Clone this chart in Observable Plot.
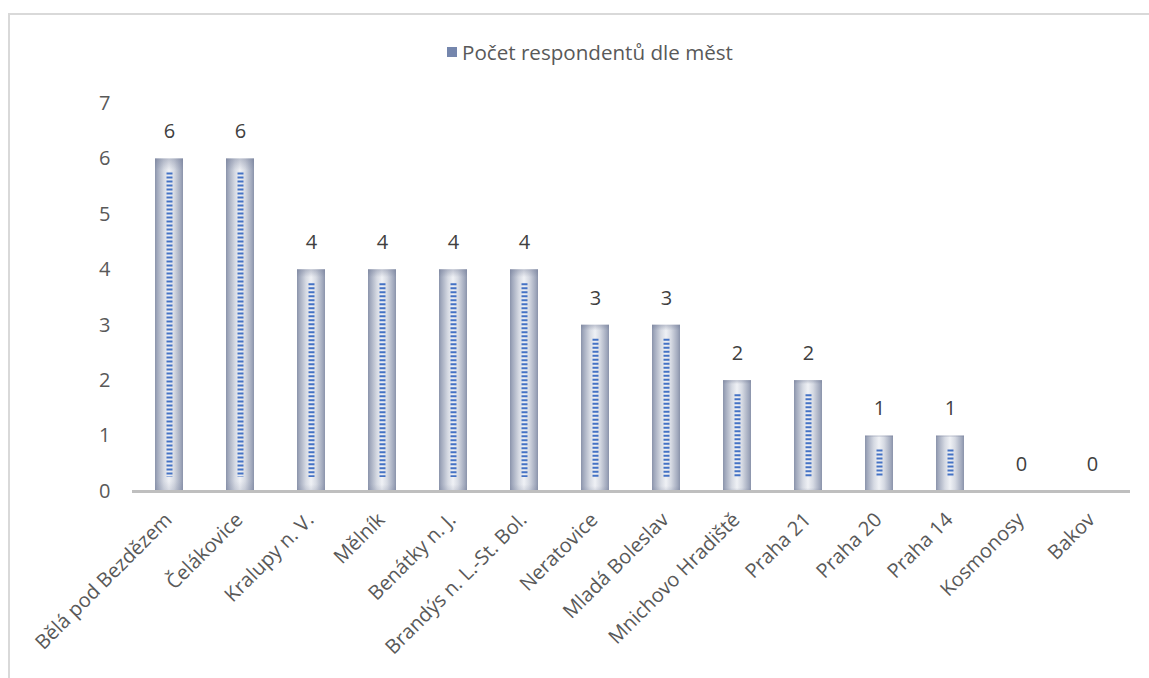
<!DOCTYPE html>
<html>
<head>
<meta charset="utf-8">
<script src="https://cdn.jsdelivr.net/npm/d3@7"></script>
<script src="https://cdn.jsdelivr.net/npm/@observablehq/plot@0.6"></script>
<style>
  body { margin: 0; background: #fff; }
  #wrap { position: relative; width: 1149px; height: 678px; overflow: hidden; font-family: "Open Sans", "Noto Sans", sans-serif; }
  #frame { position: absolute; left: 8px; top: 13px; width: 1160px; height: 700px; border-top: 2px solid #d9d9d9; border-left: 2px solid #d9d9d9; box-sizing: border-box; }
  #legend { position: absolute; left: 447px; top: 37px; height: 30px; font-size: 20.6px; color: #595959; display: flex; align-items: center; white-space: nowrap; }
  #legend .sw { width: 10px; height: 10px; background: #7586ad; margin-right: 5px; display: inline-block; }
  #chart { position: absolute; left: 0; top: 0; }
</style>
</head>
<body>
<div id="wrap">
  <div id="frame"></div>
  <div id="legend"><span class="sw"></span><span>Počet respondentů dle měst</span></div>
  <div id="chart"></div>
</div>
<script>
// Respondents per town
const cities = [
  "Bělá pod Bezdězem", "Čelákovice", "Kralupy n. V.", "Mělník", "Benátky n. J.",
  "Brandýs n. L.-St. Bol.", "Neratovice", "Mladá Boleslav", "Mnichovo Hradiště",
  "Praha 21", "Praha 20", "Praha 14", "Kosmonosy", "Bakov"
];
const counts = [6, 6, 4, 4, 4, 4, 3, 3, 2, 2, 1, 1, 0, 0];
const yTicks = [0, 1, 2, 3, 4, 5, 6, 7];

const data = cities.map((city, i) => ({city, count: counts[i]}));

// Gradient definitions used as bar fills
const defs = () => {
  const g = d3.create("svg:defs");
  g.html(`
    <linearGradient id="barGrad" x1="0" x2="1" y1="0" y2="0">
      <stop offset="0" stop-color="#8a93aa"/>
      <stop offset="0.08" stop-color="#a0a8bc"/>
      <stop offset="0.32" stop-color="#d6dae3"/>
      <stop offset="0.5" stop-color="#eff1f5"/>
      <stop offset="0.68" stop-color="#d6dae3"/>
      <stop offset="0.92" stop-color="#a0a8bc"/>
      <stop offset="1" stop-color="#8a93aa"/>
    </linearGradient>
    <linearGradient id="barShade" x1="0" x2="0" y1="0" y2="1">
      <stop offset="0" stop-color="#6f7894" stop-opacity="0.4"/>
      <stop offset="0.035" stop-color="#6f7894" stop-opacity="0"/>
      <stop offset="0.97" stop-color="#6f7894" stop-opacity="0"/>
      <stop offset="1" stop-color="#6f7894" stop-opacity="0.2"/>
    </linearGradient>`);
  return g.node();
};

const chart = Plot.plot({
  width: 1149,
  height: 678,
  marginLeft: 132,
  marginRight: 19,
  marginTop: 103,
  marginBottom: 187,
  style: {fontFamily: "'Open Sans', 'Noto Sans', sans-serif", fontSize: "20px", color: "#595959", background: "transparent"},
  x: {domain: cities, paddingInner: 0.6, paddingOuter: 0.3, label: null},
  y: {domain: [0, 7], label: null},
  marks: [
    defs,
    Plot.axisY({ticks: yTicks, tickFormat: "d", tickSize: 0, tickPadding: 22, label: null}),
    Plot.axisX({tickRotate: -45, tickSize: 0, tickPadding: 25, dx: -1, label: null}),
    Plot.barY(data, {x: "city", y: "count", fill: "url(#barGrad)"}),
    Plot.barY(data, {x: "city", y: "count", fill: "url(#barShade)"}),
    Plot.ruleX(data.filter(d => d.count > 0), {
      x: "city", y1: "count", y2: 0,
      stroke: "#4472c4", strokeWidth: 6, strokeDasharray: "2 2",
      insetTop: 14, insetBottom: 14
    }),
    Plot.ruleY([0], {stroke: "#bfbfbf", strokeWidth: 3}),
    Plot.text(data, {x: "city", y: "count", text: "count", dy: -27, fill: "#404040", fontSize: 20})
  ]
});
document.getElementById("chart").appendChild(chart);
</script>
</body>
</html>
